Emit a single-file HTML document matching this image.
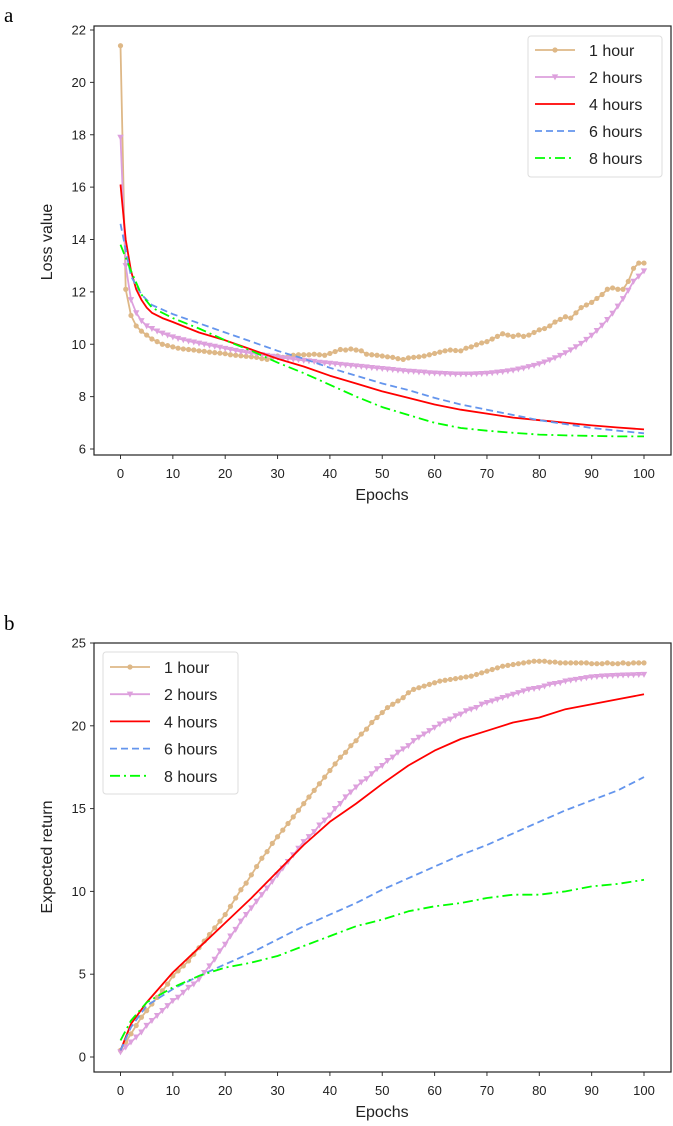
<!DOCTYPE html>
<html><head><meta charset="utf-8"><style>
html,body{margin:0;padding:0;background:#fff;}
svg text{font-family:"Liberation Sans",Arial,sans-serif;}
</style></head><body>
<svg id="svg" xmlns="http://www.w3.org/2000/svg" width="673" height="1121">
<text x="4" y="22" style="font-family:'Liberation Serif',serif" font-size="21">a</text>
<text x="4" y="630" style="font-family:'Liberation Serif',serif" font-size="21">b</text>
</svg>
<script>
// ---------- data ----------
const epochs = Array.from({length:101},(_, i)=>i);
const xTicks = [0,10,20,30,40,50,60,70,80,90,100];
const lossTicks = [6,8,10,12,14,16,18,20,22];
const returnTicks = [0,5,10,15,20,25];
const seriesNames = ["1 hour","2 hours","4 hours","6 hours","8 hours"];

const loss1h = [21.4,12.1,11.1,10.7,10.5,10.35,10.2,10.1,10.0,9.95,
9.9,9.85,9.82,9.8,9.78,9.75,9.73,9.7,9.68,9.66,
9.64,9.6,9.58,9.56,9.54,9.52,9.5,9.45,9.42,9.5,
9.55,9.5,9.52,9.58,9.6,9.6,9.6,9.62,9.6,9.58,
9.65,9.72,9.8,9.78,9.82,9.78,9.75,9.62,9.6,9.58,
9.55,9.52,9.5,9.45,9.42,9.48,9.5,9.52,9.55,9.6,
9.65,9.7,9.75,9.78,9.76,9.75,9.85,9.9,9.98,10.05,
10.1,10.2,10.3,10.4,10.35,10.3,10.35,10.3,10.35,10.45,
10.55,10.6,10.7,10.85,10.95,11.05,11.0,11.2,11.4,11.5,
11.6,11.75,11.9,12.1,12.15,12.1,12.1,12.4,12.9,13.1,13.1];
const loss2h = [17.9,13.0,11.7,11.2,10.9,10.7,10.6,10.5,10.42,10.35,
10.28,10.22,10.17,10.12,10.08,10.04,10.0,9.96,9.92,9.88,
9.84,9.8,9.76,9.72,9.69,9.66,9.63,9.6,9.57,9.54,
9.51,9.48,9.46,9.43,9.41,9.38,9.36,9.34,9.31,9.29,
9.27,9.25,9.23,9.21,9.19,9.17,9.15,9.13,9.11,9.09,
9.07,9.05,9.03,9.01,8.99,8.97,8.96,8.94,8.93,8.91,
8.9,8.89,8.88,8.87,8.86,8.86,8.86,8.86,8.87,8.88,
8.89,8.91,8.93,8.95,8.98,9.01,9.05,9.09,9.14,9.19,
9.25,9.32,9.4,9.48,9.57,9.67,9.78,9.9,10.03,10.18,
10.34,10.52,10.72,10.94,11.18,11.45,11.74,12.06,12.4,12.6,12.8];
const loss4hX = [0,1,2,3,4,5,6,8,10,15,20,25,30,35,40,45,50,55,60,65,70,75,80,85,90,95,100];
const loss4h  = [16.1,14.0,12.8,12.1,11.7,11.4,11.2,11.0,10.85,10.45,10.15,9.8,9.45,9.15,8.8,8.5,8.2,7.95,7.7,7.5,7.35,7.2,7.1,7.0,6.9,6.82,6.75];
const loss6hX = [0,2,4,6,10,15,20,25,30,35,40,45,50,55,60,65,70,75,80,85,90,95,100];
const loss6h  = [14.6,12.6,11.9,11.5,11.15,10.8,10.45,10.1,9.75,9.45,9.1,8.8,8.5,8.25,7.95,7.7,7.5,7.3,7.1,6.95,6.8,6.7,6.6];
const loss8hX = [0,2,4,6,10,15,20,25,30,35,40,45,50,55,60,65,70,75,80,85,90,95,100];
const loss8h  = [13.8,12.8,11.9,11.4,11.0,10.6,10.15,9.75,9.3,8.9,8.45,8.0,7.6,7.3,7.0,6.8,6.7,6.62,6.55,6.52,6.5,6.48,6.48];

const ret1h = [0.4,0.9,1.4,1.9,2.4,2.8,3.2,3.6,4.0,4.4,
4.9,5.2,5.5,5.8,6.2,6.6,7.0,7.4,7.8,8.2,
8.6,9.1,9.6,10.1,10.5,11.0,11.5,12.0,12.4,12.9,
13.3,13.7,14.1,14.5,14.9,15.3,15.7,16.1,16.5,16.9,
17.3,17.7,18.1,18.4,18.8,19.1,19.5,19.8,20.2,20.5,
20.8,21.1,21.3,21.5,21.7,22.0,22.2,22.3,22.4,22.5,
22.6,22.7,22.75,22.8,22.85,22.9,22.95,23.0,23.1,23.2,
23.3,23.4,23.5,23.6,23.65,23.7,23.75,23.8,23.85,23.9,
23.9,23.9,23.85,23.85,23.8,23.8,23.8,23.8,23.8,23.8,
23.75,23.75,23.75,23.8,23.75,23.75,23.8,23.75,23.8,23.8,23.8];
const ret2h = [0.3,0.6,0.9,1.2,1.5,1.9,2.2,2.5,2.8,3.1,
3.4,3.6,3.9,4.2,4.4,4.7,5.1,5.5,5.9,6.4,
6.8,7.3,7.7,8.2,8.6,9.0,9.4,9.8,10.2,10.6,
11.0,11.4,11.8,12.2,12.6,13.0,13.3,13.6,14.0,14.3,
14.6,15.0,15.3,15.7,16.0,16.3,16.6,16.8,17.1,17.4,
17.6,17.9,18.1,18.4,18.6,18.8,19.1,19.3,19.5,19.7,
19.9,20.1,20.3,20.4,20.6,20.7,20.9,21.0,21.1,21.3,
21.4,21.5,21.6,21.7,21.8,21.9,22.0,22.1,22.2,22.25,
22.3,22.4,22.5,22.55,22.6,22.7,22.75,22.8,22.85,22.9,
22.95,22.97,23.0,23.02,23.03,23.05,23.06,23.07,23.08,23.09,23.1];
const ret4hX = [0,2,5,10,15,20,25,30,35,40,45,50,55,60,65,70,75,80,85,90,95,100];
const ret4h  = [0.4,2.0,3.3,5.1,6.6,8.1,9.6,11.2,12.8,14.2,15.3,16.5,17.6,18.5,19.2,19.7,20.2,20.5,21.0,21.3,21.6,21.9];
const ret6hX = [0,2,5,10,15,20,25,30,35,40,45,50,55,60,65,70,75,80,85,90,95,100];
const ret6h  = [0.4,1.8,3.1,4.1,4.9,5.6,6.3,7.1,7.9,8.6,9.3,10.1,10.8,11.5,12.2,12.8,13.5,14.2,14.9,15.5,16.1,16.9];
const ret8hX = [0,2,5,10,15,20,25,30,35,40,45,50,55,60,65,70,75,80,85,90,95,100];
const ret8h  = [1.0,2.2,3.3,4.2,4.9,5.4,5.7,6.1,6.7,7.3,7.9,8.3,8.8,9.1,9.3,9.6,9.8,9.8,10.0,10.3,10.45,10.7];

// ---------- drawing ----------
const NS="http://www.w3.org/2000/svg";
const svg=document.getElementById('svg');
const colors=["#deb887","#dda0dd","#ff0000","#6495ed","#00ff00"];
const dashes=["","","","7,4","10,4,2,4"];
function mk(tag,attrs,parent){const e=document.createElementNS(NS,tag);for(const k in attrs)e.setAttribute(k,attrs[k]);(parent||svg).appendChild(e);return e;}

function chart(cfg){
  const g=mk('g',{});
  
  
  const xs=v=>120.5+(v/100)*523.5;
  const ys=v=>cfg.y0px+(v-cfg.y0)/(cfg.y1-cfg.y0)*(cfg.y1px-cfg.y0px);
  const L=94,R=671,T=cfg.top,B=cfg.bottom;
  const clip=mk('clipPath',{id:cfg.name+'-clip'},g);
  mk('rect',{x:L,y:T,width:R-L,height:B-T},clip);
  xTicks.forEach(t=>{
    const l=mk('line',{x1:xs(t),x2:xs(t),y1:B,y2:B+4,stroke:'#333','stroke-width':1},g);
    
    const tx=mk('text',{x:xs(t),y:B+23,'font-size':13,'text-anchor':'middle',fill:'#222'},g);
    
    tx.textContent=t;
  });
  cfg.yTicks.forEach(t=>{
    const l=mk('line',{x1:L-4,x2:L,y1:ys(t),y2:ys(t),stroke:'#333','stroke-width':1},g);
    
    const tx=mk('text',{x:L-8,y:ys(t)+4.5,'font-size':13,'text-anchor':'end',fill:'#222'},g);
    
    tx.textContent=t;
  });
  const xl=mk('text',{x:382,y:B+45,'font-size':16,'text-anchor':'middle',fill:'#222'},g);
  
  xl.textContent='Epochs';
  const yl=mk('text',{x:0,y:0,'font-size':16,'text-anchor':'middle',fill:'#222',transform:`translate(52,${cfg.ylabelY}) rotate(-90)`},g);
  
  yl.textContent=cfg.ylabel;
  const pg=mk('g',{'clip-path':`url(#${cfg.name}-clip)`},g);
  cfg.series.forEach((s,i)=>{
    const pts=s.x.map((x,j)=>xs(x).toFixed(1)+','+ys(s.y[j]).toFixed(1)).join(' ');
    const pl=mk('polyline',{points:pts,fill:'none',stroke:colors[i],'stroke-width':1.8,'stroke-linejoin':'round'},pg);
    if(dashes[i])pl.setAttribute('stroke-dasharray',dashes[i]);
    
    
    if(i===0){s.x.forEach((x,j)=>{const c=mk('circle',{cx:xs(x),cy:ys(s.y[j]),r:2.6,fill:colors[0]},pg);
      });}
    if(i===1){s.x.forEach((x,j)=>{const cx=xs(x),cy=ys(s.y[j]);
      const p=mk('polygon',{points:`${cx-3.2},${cy-2.6} ${cx+3.2},${cy-2.6} ${cx},${cy+3.4}`,fill:colors[1]},pg);
      });}
  });
  const fr=mk('rect',{x:L,y:T,width:R-L,height:B-T,fill:'none',stroke:'#222','stroke-width':1.2},g);
  
  const lg=mk('g',{},g);
  
  const lb=cfg.legend;
  mk('rect',{x:lb.x,y:lb.y,width:lb.w,height:lb.h,rx:3,fill:'#fff','fill-opacity':0.85,stroke:'#ddd','stroke-width':1},lg);
  seriesNames.forEach((n,i)=>{
    const ey=lb.y0+i*lb.dy;
    const e=mk('g',{},lg);
    
    const ln=mk('line',{x1:lb.lx,x2:lb.lx+40,y1:ey,y2:ey,stroke:colors[i],'stroke-width':1.8},e);
    if(dashes[i])ln.setAttribute('stroke-dasharray',dashes[i]);
    if(i===0)mk('circle',{cx:lb.lx+20,cy:ey,r:2.6,fill:colors[0]},e);
    if(i===1)mk('polygon',{points:`${lb.lx+16.8},${ey-2.6} ${lb.lx+23.2},${ey-2.6} ${lb.lx+20},${ey+3.4}`,fill:colors[1]},e);
    const t=mk('text',{x:lb.lx+54,y:ey+6,'font-size':16,fill:'#222'},e);
    t.textContent=n;
  });
}

chart({name:'loss-chart',top:26,bottom:455,y0:22,y0px:30,y1:6,y1px:449,yTicks:lossTicks,ylabel:'Loss value',ylabelY:242,
  series:[{x:epochs,y:loss1h},{x:epochs,y:loss2h},{x:loss4hX,y:loss4h},{x:loss6hX,y:loss6h},{x:loss8hX,y:loss8h}],
  legend:{x:528,y:36,w:134,h:141,y0:50,dy:27,lx:535}});
chart({name:'return-chart',top:643,bottom:1072,y0:25,y0px:643,y1:0,y1px:1057,yTicks:returnTicks,ylabel:'Expected return',ylabelY:857,
  series:[{x:epochs,y:ret1h},{x:epochs,y:ret2h},{x:ret4hX,y:ret4h},{x:ret6hX,y:ret6h},{x:ret8hX,y:ret8h}],
  legend:{x:103,y:652,w:135,h:142,y0:667,dy:27.2,lx:110}});
</script>
</body></html>
